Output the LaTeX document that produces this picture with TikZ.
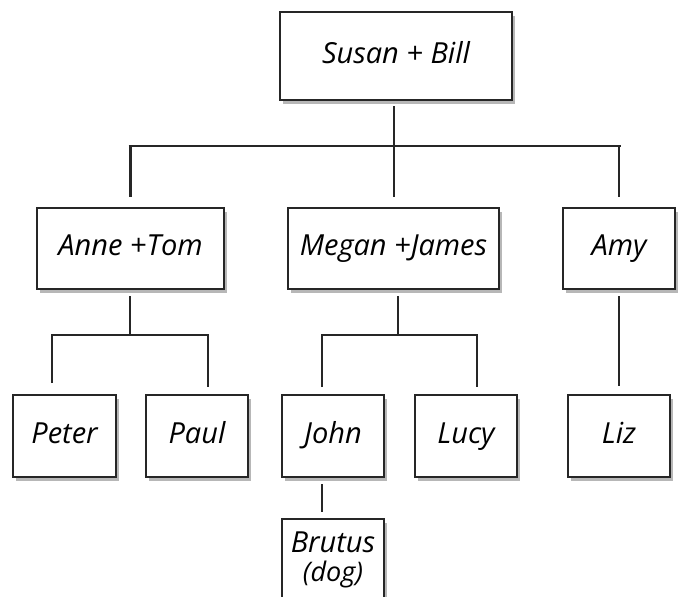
\documentclass[tikz,border=0pt]{standalone}
\usepackage{fontspec}
\setmainfont{Open Sans}
\usetikzlibrary{shadows}
\begin{document}
\begin{tikzpicture}[x=1pt,y=-1pt,
  box/.style={draw=black!85, line width=2.8pt, fill=white, inner sep=0pt,
    font=\fontsize{29}{33}\selectfont\itshape, text height=21pt, text depth=7pt,
    drop shadow={shadow xshift=3pt, shadow yshift=-4pt, fill=black!40, opacity=0.7}},
  link/.style={draw=black!85, line width=2.6pt}]
\useasboundingbox (0,0) rectangle (680,597);
\begin{scope}
\clip (0,0) rectangle (680,597);
\node[box, minimum width=232pt, minimum height=88pt] (sb) at (396,56) {Susan + Bill};
\node[box, minimum width=187pt, minimum height=81pt] (at) at (130.5,248.5) {Anne +Tom};
\node[box, minimum width=211pt, minimum height=81pt] (mj) at (393.5,248.5) {Megan +James};
\node[box, minimum width=112pt, minimum height=81pt] (amy) at (619,248.5) {Amy};
\node[box, minimum width=103pt, minimum height=82pt] (peter) at (64.5,436) {Peter};
\node[box, minimum width=102pt, minimum height=82pt] (paul) at (197,436) {Paul};
\node[box, minimum width=102pt, minimum height=82pt] (john) at (333,436) {John};
\node[box, minimum width=102pt, minimum height=82pt] (lucy) at (466,436) {Lucy};
\node[box, minimum width=102pt, minimum height=82pt] (liz) at (619,436) {Liz};
\node[box, minimum width=102pt, minimum height=82pt, text height=, text depth=, align=center] (brutus) at (333,560)
  {Brutus\\[-4pt]{\fontsize{27}{30}\selectfont(dog)}};
\end{scope}
% level 1 connectors
\coordinate (j0) at (394,146);
\draw[link] ([yshift=-5pt]sb.south -| j0) -- (j0);
\draw[link] (128.5,146) -- (620.5,146);
\draw[link] (at.north |- j0) -- ([yshift=10pt]at.north);
\draw[link] (j0) -- ([yshift=10pt]mj.north -| j0);
\draw[link] (amy.north |- j0) -- ([yshift=10pt]amy.north);
% Anne + Tom children
\coordinate (ja) at (130,335);
\coordinate (pe) at (52,383);
\coordinate (pa) at (208,387);
\draw[link] ([yshift=-6pt]at.south -| ja) -- (ja);
\draw[link] (pe) -- (pe |- ja) -- (pa |- ja) -- (pa);
% Megan + James children
\coordinate (jm) at (398,335);
\coordinate (jo) at (322,387);
\coordinate (lu) at (477,387);
\draw[link] ([yshift=-6pt]mj.south -| jm) -- (jm);
\draw[link] (jo) -- (jo |- jm) -- (lu |- jm) -- (lu);
% Amy child
\draw[link] ([yshift=-6pt]amy.south) -- ([yshift=8pt]liz.north);
% John child
\draw[link] ([yshift=-6pt]john.south -| jo) -- ([yshift=6pt]brutus.north -| jo);
\end{tikzpicture}
\end{document}
